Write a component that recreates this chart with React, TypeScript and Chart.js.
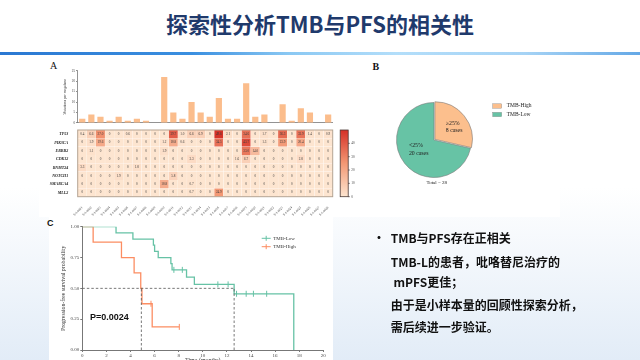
import React, { useEffect, useRef } from "react";
import { Chart, registerables } from "chart.js";
Chart.register(...registerables);

const SERIF = "'Liberation Serif', 'DejaVu Serif', serif";
const SANS = "'Liberation Sans', Arial, sans-serif";
const CJK = "'Noto Sans CJK SC', 'Noto Sans', sans-serif";

// ---------- Panel A data ----------
const sampleIds = [
  "S-1-0001", "S-1-0002", "S-1-0003", "S-1-0004", "S-1-0005", "S-1-0006", "S-1-0007",
  "S-1-0008", "S-1-0009", "S-1-0010", "S-1-0011", "S-1-0012", "S-1-0013", "S-1-0014",
  "S-1-0015", "S-1-0016", "S-1-0017", "S-1-0018", "S-1-0019", "S-1-0020", "S-1-0021",
  "S-1-0022", "S-1-0023", "S-1-0024", "S-1-0025", "S-1-0026", "S-1-0027", "S-1-0028",
];
const tmbPerSample = [2, 4, 3, 1, 3, 1, 2, 1, 0, 22, 5, 2, 10, 5, 3, 12, 2, 2, 19, 3, 4, 0, 9, 1, 7, 5, 0, 4];
const barMax = 25;
const genes = ["TP53", "PIK3CA", "ERBB2", "CDK12", "RNMT24", "NOTCH1", "SMARCA4", "MLL2"];
const tp53 = [0.4, 6.6, 27.0, 0, 0, 0.6, 0, 0, 0, 0, 39.7, 1.0, 6.6, 6.9, 0, 49.6, 2.1, 0, 34.6, 0, 1.7, 0, 36.3, 0, 33.9, 1.4, 0, 0.9];
const pik3ca = [0, 1.9, 19.6, 0, 0, 0, 0, 0, 0, 1.2, 18.8, 0.6, 0, 0, 0, 34.5, 0, 0, 43.7, 0, 1.3, 0, 23.9, 0, 20.4, 0, 0, 0];
const erbb2 = [0, 1.1, 0, 0, 0, 0, 0, 0, 0, 1.9, 0, 0, 0, 0, 0, 0, 0, 0, 33.0, 14.0, 0, 0, 0, 0, 0, 0, 0, 0];
const cdk12 = [0, 0, 0, 0, 0, 0, 0, 0, 0, 0, 0, 0, 3.3, 0, 0, 0, 0, 1.6, 6.7, 0, 0, 0, 0, 0, 2.8, 0, 0, 0];
const rnmt24 = [3.3, 0, 0, 0, 0, 0, 1.8, 0, 0, 0, 0, 0, 0, 0, 0, 0, 0, 0, 0, 0, 0, 0, 0, 0, 0, 0, 0, 0];
const notch1 = [0, 0, 0, 0, 1.9, 0, 0, 0, 0, 0, 5.8, 0, 0, 0, 0, 0, 0, 0, 0, 0, 0, 0, 0, 0, 0, 0, 0, 0];
const smarca4 = [0, 0, 0, 0, 0, 0, 0, 0, 0, 18.8, 0, 0, 0.7, 0, 0, 0, 0, 0, 0, 0, 0, 0, 0, 0, 0, 0, 0, 0];
const mll2 = [0, 0, 0, 0, 0, 0, 0, 0, 0, 0, 0, 0, 0.7, 0, 0, 24.9, 0, 0, 0, 0, 0, 0, 0, 0, 0, 0, 0, 0];
const geneRows = [tp53, pik3ca, erbb2, cdk12, rnmt24, notch1, smarca4, mll2];
const colorbarTicks = [0, 10, 20, 30, 40];
const heatMax = 50;

// ---------- Panel B data ----------
const pieLabels = ["TMB-High", "TMB-Low"];
const pieCases = [8, 20];
const pieColors = ["#fcbf8d", "#67c3a5"];
const pieLines = [["\u226525%", "8 cases"], ["<25%", "20 cases"]];
const pieTotal = "Total = 28";

// ---------- Panel C data ----------
const kmLowTime = [0, 2.8, 4.2, 5.9, 6.0, 6.3, 7.35, 7.45, 8.65, 9.3, 12.6, 17.55];
const kmLowSurv = [1, 0.95, 0.9, 0.85, 0.8, 0.75, 0.7, 0.65, 0.591, 0.532, 0.456, 0];
const kmLowCensorTime = [7.6, 8.3, 11.25, 12.1, 12.8, 13.6, 14.2, 15.3];
const kmLowCensorSurv = [0.65, 0.65, 0.532, 0.532, 0.456, 0.456, 0.456, 0.456];
const kmHighTime = [0, 0.9, 3.25, 4.3, 4.85, 4.95, 5.8, 8.05];
const kmHighSurv = [1, 0.875, 0.75, 0.625, 0.5, 0.375, 0.1875, 0.1875];
const kmHighCensorTime = [5.7, 8.05];
const kmHighCensorSurv = [0.375, 0.1875];
const medianHigh = 4.9;
const medianLow = 12.6;
const kmLegend = ["TMB-Low", "TMB-High"];
const kmColors = ["#66c2a5", "#fc8d62"];
const pValueText = "P=0.0024";

const heatStops: [number, number[]][] = [
  [0, [253, 229, 208]],
  [0.5, [243, 152, 116]],
  [1, [213, 48, 39]],
];
function heatColor(v: number) {
  const t = Math.max(0, Math.min(1, v / heatMax));
  for (let i = 1; i < heatStops.length; i++) {
    const [t0, c0] = heatStops[i - 1];
    const [t1, c1] = heatStops[i];
    if (t <= t1) {
      const f = (t - t0) / (t1 - t0);
      return `rgb(${c0.map((c, k) => Math.round(c + (c1[k] - c) * f)).join(",")})`;
    }
  }
  return "rgb(213,48,39)";
}

function useChart(ref: any, make: () => any) {
  useEffect(() => {
    const chart = new Chart(ref.current, make());
    return () => chart.destroy();
  }, []);
}

function Canvas({ x, y, w, h, make }: any) {
  const ref = useRef<HTMLCanvasElement>(null);
  useChart(ref, make);
  return (
    <canvas
      ref={ref}
      width={w}
      height={h}
      style={{ position: "absolute", left: x, top: y, width: w, height: h, display: "block" }}
    />
  );
}

const barConfig = () => ({
  type: "bar",
  data: {
    labels: sampleIds,
    datasets: [{ data: tmbPerSample, backgroundColor: "#fbbd8c", barPercentage: 0.68, categoryPercentage: 1 }],
  },
  options: {
    responsive: false,
    animation: false,
    layout: { padding: { left: 23, top: 8.7, right: 7.3, bottom: 0 } },
    plugins: { legend: { display: false }, tooltip: { enabled: false } },
    scales: {
      x: {
        grid: { display: false },
        ticks: { display: false },
        border: { color: "#777", width: 0.8 },
        afterFit: (s: any) => { s.height = 0; },
      },
      y: {
        min: 0,
        max: barMax,
        ticks: { stepSize: 5, font: { size: 3.4, family: SERIF }, color: "#444", padding: 1 },
        grid: { drawOnChartArea: false, tickLength: 1.5, color: "#777" },
        border: { color: "#777", width: 0.8 },
        title: { display: true, text: "Mutations per megabase", font: { size: 3.7, family: SERIF }, color: "#333", padding: 0 },
        afterFit: (s: any) => { s.width = 14.7; },
      },
    },
  },
});

const heatPlugin = {
  id: "heatExtras",
  afterDatasetsDraw(chart: any) {
    const { ctx, chartArea: a } = chart;
    ctx.save();
    ctx.font = `3.3px ${SERIF}`;
    ctx.fillStyle = "#3a3a3a";
    ctx.textAlign = "center";
    ctx.textBaseline = "middle";
    chart.data.datasets.forEach((_ds: any, di: number) => {
      const meta = chart.getDatasetMeta(di);
      meta.data.forEach((el: any, j: number) => {
        const v = geneRows[di][j];
        ctx.fillText(v === 0 ? "0" : v.toFixed(1), el.x, (el.y + el.base) / 2);
      });
    });
    ctx.strokeStyle = "#b5a392";
    ctx.lineWidth = 1;
    ctx.strokeRect(a.left, a.top, a.right - a.left, a.bottom - a.top);
    // colour bar
    const cbX = a.right + 7.5;
    const cbW = 8;
    const h = a.bottom - a.top;
    const grad = ctx.createLinearGradient(0, a.bottom, 0, a.top);
    heatStops.forEach(([t, c]) => grad.addColorStop(t, `rgb(${c.join(",")})`));
    ctx.fillStyle = grad;
    ctx.fillRect(cbX, a.top, cbW, h);
    ctx.strokeStyle = "#4b3a36";
    ctx.lineWidth = 0.8;
    ctx.strokeRect(cbX, a.top, cbW, h);
    ctx.fillStyle = "#444";
    ctx.font = `3.4px ${SERIF}`;
    ctx.textAlign = "left";
    colorbarTicks.forEach((v) => {
      const y = a.bottom - (v / heatMax) * h;
      ctx.beginPath();
      ctx.moveTo(cbX + cbW, y);
      ctx.lineTo(cbX + cbW + 1.5, y);
      ctx.stroke();
      ctx.fillText(String(v), cbX + cbW + 3, y);
    });
    ctx.restore();
  },
};

const heatConfig = () => ({
  type: "bar",
  data: {
    labels: sampleIds,
    datasets: genes.map((g, gi) => ({
      label: g,
      data: sampleIds.map(() => 1),
      backgroundColor: geneRows[gi].map(heatColor),
      borderColor: "rgba(255,255,255,0.35)",
      borderWidth: 0.4,
      barPercentage: 1,
      categoryPercentage: 1,
      stack: "cells",
    })),
  },
  options: {
    responsive: false,
    animation: false,
    layout: { padding: { left: 0, top: 5, right: 37.3, bottom: 0 } },
    plugins: { legend: { display: false }, tooltip: { enabled: false } },
    scales: {
      x: {
        stacked: true,
        grid: { display: false },
        border: { display: false },
        ticks: { font: { size: 3.2, family: SERIF }, color: "#444", minRotation: 45, maxRotation: 45, autoSkip: false, padding: 1 },
        afterFit: (s: any) => { s.height = 23.3; },
      },
      y: {
        stacked: true,
        reverse: true,
        min: 0,
        max: genes.length,
        grid: { display: false },
        border: { display: false },
        afterBuildTicks: (s: any) => { s.ticks = genes.map((_g, i) => ({ value: i + 0.5 })); },
        ticks: {
          callback: (v: number) => genes[Math.floor(v)],
          font: { size: 4, family: SERIF, style: "italic", weight: "bold" },
          color: "#222",
          padding: 1.5,
        },
        afterFit: (s: any) => { s.width = 37.7; },
      },
    },
  },
  plugins: [heatPlugin],
});

const piePlugin = {
  id: "pieExtras",
  afterDatasetsDraw(chart: any) {
    const { ctx } = chart;
    const meta = chart.getDatasetMeta(0);
    const cx = meta.data[1].x;
    const cy = meta.data[1].y;
    ctx.save();
    ctx.fillStyle = "#222";
    ctx.font = `5.8px ${SERIF}`;
    ctx.textBaseline = "middle";
    ctx.textAlign = "left";
    const shifts = [[-4.6, -3.8, 3.7], [-10.4, -6, 1.6]];
    meta.data.forEach((arc: any, i: number) => {
      const p = arc.tooltipPosition();
      const [dx, dy1, dy2] = shifts[i];
      ctx.fillText(pieLines[i][0], p.x + dx, p.y + dy1);
      ctx.fillText(pieLines[i][1], p.x + dx, p.y + dy2);
    });
    ctx.font = `5px ${SERIF}`;
    ctx.textAlign = "center";
    ctx.fillText(pieTotal, cx + 2.7, cy + 42.7);
    // legend
    ctx.textAlign = "left";
    ctx.font = `5.5px ${SERIF}`;
    pieLabels.forEach((lab, i) => {
      const y = cy - 34 + i * 8.5;
      ctx.fillStyle = pieColors[i];
      ctx.fillRect(cx + 58.7, y - 2.2, 9, 4.4);
      ctx.strokeStyle = "#888";
      ctx.lineWidth = 0.4;
      ctx.strokeRect(cx + 58.7, y - 2.2, 9, 4.4);
      ctx.fillStyle = "#222";
      ctx.fillText(lab, cx + 72.7, y);
    });
    ctx.restore();
  },
};

const pieConfig = () => ({
  type: "pie",
  data: {
    labels: pieLabels,
    datasets: [{
      data: pieCases,
      backgroundColor: pieColors,
      borderColor: "#7a7a7a",
      borderWidth: 0.6,
      offset: [4.5, 0],
      radius: 37.5,
    }],
  },
  options: {
    responsive: false,
    animation: false,
    layout: { padding: { left: 9, top: 20, right: 61, bottom: 0 } },
    plugins: { legend: { display: false }, tooltip: { enabled: false } },
  },
  plugins: [piePlugin],
});

const kmPlugin = {
  id: "kmExtras",
  afterDatasetsDraw(chart: any) {
    const { ctx, chartArea: a, scales } = chart;
    ctx.save();
    ctx.font = `bold 9px ${SANS}`;
    ctx.fillStyle = "#111";
    ctx.textAlign = "left";
    ctx.textBaseline = "middle";
    ctx.fillText(pValueText, scales.x.getPixelForValue(0.64), scales.y.getPixelForValue(0.265));
    ctx.font = `5px ${SERIF}`;
    kmLegend.forEach((lab, i) => {
      const y = a.top + 11.6 + i * 8.4;
      const x0 = a.left + 179.4;
      ctx.strokeStyle = kmColors[i];
      ctx.lineWidth = 1;
      ctx.beginPath();
      ctx.moveTo(x0, y);
      ctx.lineTo(x0 + 9, y);
      ctx.moveTo(x0 + 4.5, y - 2.5);
      ctx.lineTo(x0 + 4.5, y + 2.5);
      ctx.stroke();
      ctx.fillStyle = "#333";
      ctx.fillText(lab, x0 + 11.5, y);
    });
    ctx.restore();
  },
};

const toPts = (xs: number[], ys: number[]) => xs.map((x, i) => ({ x, y: ys[i] }));
const dashed = (pts: any[]) => ({
  data: pts, showLine: true, borderColor: "#555", borderWidth: 0.8, borderDash: [2.5, 2], pointRadius: 0,
});

const kmConfig = () => ({
  type: "scatter",
  data: {
    datasets: [
      dashed([{ x: 0, y: 0.5 }, { x: medianLow, y: 0.5 }]),
      dashed([{ x: medianHigh, y: 0 }, { x: medianHigh, y: 0.5 }]),
      dashed([{ x: medianLow, y: 0 }, { x: medianLow, y: 0.5 }]),
      { label: kmLegend[0], data: toPts(kmLowTime, kmLowSurv), showLine: true, stepped: true, borderColor: kmColors[0], borderWidth: 1.3, pointRadius: 0 },
      { label: kmLegend[1], data: toPts(kmHighTime, kmHighSurv), showLine: true, stepped: true, borderColor: kmColors[1], borderWidth: 1.3, pointRadius: 0 },
      { data: toPts(kmLowCensorTime, kmLowCensorSurv), showLine: false, pointStyle: "line", rotation: 90, pointRadius: 3, borderColor: kmColors[0], borderWidth: 1 },
      { data: toPts(kmHighCensorTime, kmHighCensorSurv), showLine: false, pointStyle: "line", rotation: 90, pointRadius: 3, borderColor: kmColors[1], borderWidth: 1 },
    ],
  },
  options: {
    responsive: false,
    animation: false,
    layout: { padding: { left: 20, top: 11.7, right: 11.7, bottom: 0 } },
    plugins: { legend: { display: false }, tooltip: { enabled: false } },
    scales: {
      x: {
        type: "linear",
        min: 0,
        max: 20,
        ticks: { stepSize: 2, font: { size: 5, family: SERIF }, color: "#444", padding: 1 },
        grid: { drawOnChartArea: false, tickLength: 2, color: "#777" },
        border: { color: "#777", width: 1 },
        title: { display: true, text: "Time (months)", font: { size: 6, family: SERIF }, color: "#333", padding: 0 },
        afterFit: (s: any) => { s.height = 14; },
      },
      y: {
        min: 0,
        max: 1,
        ticks: { stepSize: 0.25, callback: (v: number) => v.toFixed(2), font: { size: 5, family: SERIF }, color: "#444", padding: 1 },
        grid: { drawOnChartArea: false, tickLength: 2, color: "#777" },
        border: { color: "#777", width: 1 },
        title: { display: true, text: "Progression-free survival probability", font: { size: 5.8, family: SERIF }, color: "#333", padding: 0 },
        afterFit: (s: any) => { s.width = 22.3; },
      },
    },
  },
  plugins: [kmPlugin],
});

function Text({ x, y, size, children, style }: any) {
  return (
    <div
      style={{
        position: "absolute",
        left: x,
        top: y - size * 0.75,
        fontSize: size,
        lineHeight: `${size * 1.5}px`,
        whiteSpace: "nowrap",
        ...style,
      }}
    >
      {children}
    </div>
  );
}

const bulletLines = [
  "TMB与PFS存在正相关",
  "TMB-L的患者，吡咯替尼治疗的",
  " mPFS更佳；",
  "由于是小样本量的回顾性探索分析，",
  "需后续进一步验证。",
];
const bulletY = [238.3, 262.3, 281.7, 305, 327.3];
const bulletX = [390.7, 390.7, 390.7, 390.7, 390.7];

export default function App() {
  return (
    <div
      style={{
        position: "fixed",
        left: 0,
        top: 0,
        width: 640,
        height: 360,
        overflow: "hidden",
        background: "linear-gradient(to bottom, #ffffff 0%, #ffffff 52%, #e2ecf7 100%)",
        fontFamily: CJK,
      }}
    >
      <div
        style={{
          position: "absolute",
          left: 0,
          top: 6.5,
          width: 640,
          textAlign: "center",
          fontSize: 22,
          lineHeight: "33px",
          fontWeight: 700,
          color: "#1f3a6c",
          fontFamily: CJK,
        }}
      >
        探索性分析TMB与PFS的相关性
      </div>
      <div
        style={{
          position: "absolute",
          left: 0,
          top: 52,
          width: 640,
          height: 3,
          background: "linear-gradient(to right, #2a78d2 0%, #3a8fe0 30%, #8ac8f3 45%, #b3defa 62%, #a6d3f5 82%, #64a8e6 100%)",
        }}
      />
      <div style={{ position: "absolute", left: 39, top: 58, width: 521, height: 159, background: "#fff" }} />
      <div style={{ position: "absolute", left: 49, top: 217, width: 284, height: 143, background: "#fff" }} />

      <Text x={50} y={65.5} size={10} style={{ fontFamily: SERIF, color: "#111" }}>A</Text>
      <Text x={372.5} y={66} size={10} style={{ fontFamily: SERIF, fontWeight: 700, color: "#111" }}>B</Text>
      <Text x={47} y={223.5} size={9} style={{ fontFamily: SANS, fontWeight: 700, color: "#111" }}>C</Text>

      <Canvas x={40} y={62} w={300} h={64} make={barConfig} />
      <Canvas x={40} y={125} w={330} h={95} make={heatConfig} />
      <Canvas x={360} y={55} w={200} h={150} make={pieConfig} />
      <Canvas x={40} y={215} w={295} h={149} make={kmConfig} />

      <Text x={373} y={238.3} size={12} style={{ fontWeight: 700, color: "#111" }}>•</Text>
      {bulletLines.map((ln, i) => (
        <Text key={i} x={bulletX[i]} y={bulletY[i]} size={12} style={{ fontWeight: 700, color: "#111", whiteSpace: "pre" }}>
          {ln}
        </Text>
      ))}
    </div>
  );
}
